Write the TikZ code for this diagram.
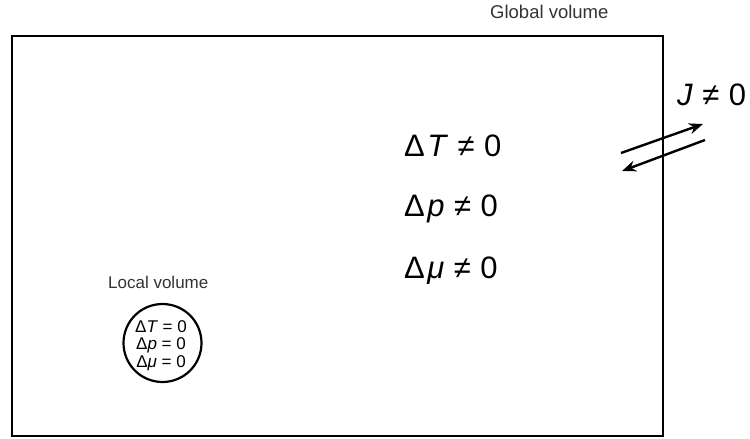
\documentclass[tikz,border=0pt]{standalone}
\usepackage{fontspec}
\setmainfont{Liberation Sans}
\usetikzlibrary{positioning, arrows.meta, calc}

\newcommand{\gapd}{\hspace{2.5pt}}
\newcommand{\gapr}{\hspace{9.5pt}}

\begin{document}
\begin{tikzpicture}[
  x=1pt, y=-1pt,
  big/.style={font=\fontsize{31}{34}\selectfont, inner sep=0pt, anchor=base west},
  small/.style={font=\fontsize{17}{18}\selectfont, inner sep=0pt, anchor=base},
  label/.style={font=\fontsize{17}{20}\selectfont, text=black!80, inner sep=0pt, anchor=base west},
  flux/.style={-{Stealth[length=14pt, width=11pt]}, line width=2.4pt}
]
\useasboundingbox (0,0) rectangle (750,439);

% global volume
\draw[line width=2.4pt] (12,36) rectangle (663,436);
\node[label, font=\fontsize{18.5}{20}\selectfont] (globtxt) at (490,19) {Global volume};

% differences across the global volume
\node[big] (dT)  at (404,156) {Δ\gapd\textit{T}\gapr≠\gapr0};
\node[big] (dp)  at (404,216) {Δ\gapd\textit{p}\gapr≠\gapr0};
\node[big] (dmu) at (404,278) {Δ\gapd\textit{μ}\gapr≠\gapr0};

% flux through the wall
\node[big] (flux) at (677,105) {\textit{J}\gapr≠\gapr0};
\coordinate (outA) at (621,153);
\coordinate (outB) at (703,124);
\coordinate (inA)  at (705,140);
\coordinate (inB)  at (622,171);
\draw[flux] (outA) -- (outB);
\draw[flux] (inA) -- (inB);

% local volume
\node[label] (loctxt) at (108,288) {Local volume};
\node[draw, circle, line width=2.2pt, minimum size=78pt, inner sep=0pt] (local) at (162.5,343) {};
\node[small] (ldT)  at (161,332) {Δ\textit{T} = 0};
\node[small] (ldp)  at (161,349.5) {Δ\textit{p} = 0};
\node[small] (ldmu) at (161,367) {Δ\textit{μ} = 0};

\end{tikzpicture}
\end{document}
